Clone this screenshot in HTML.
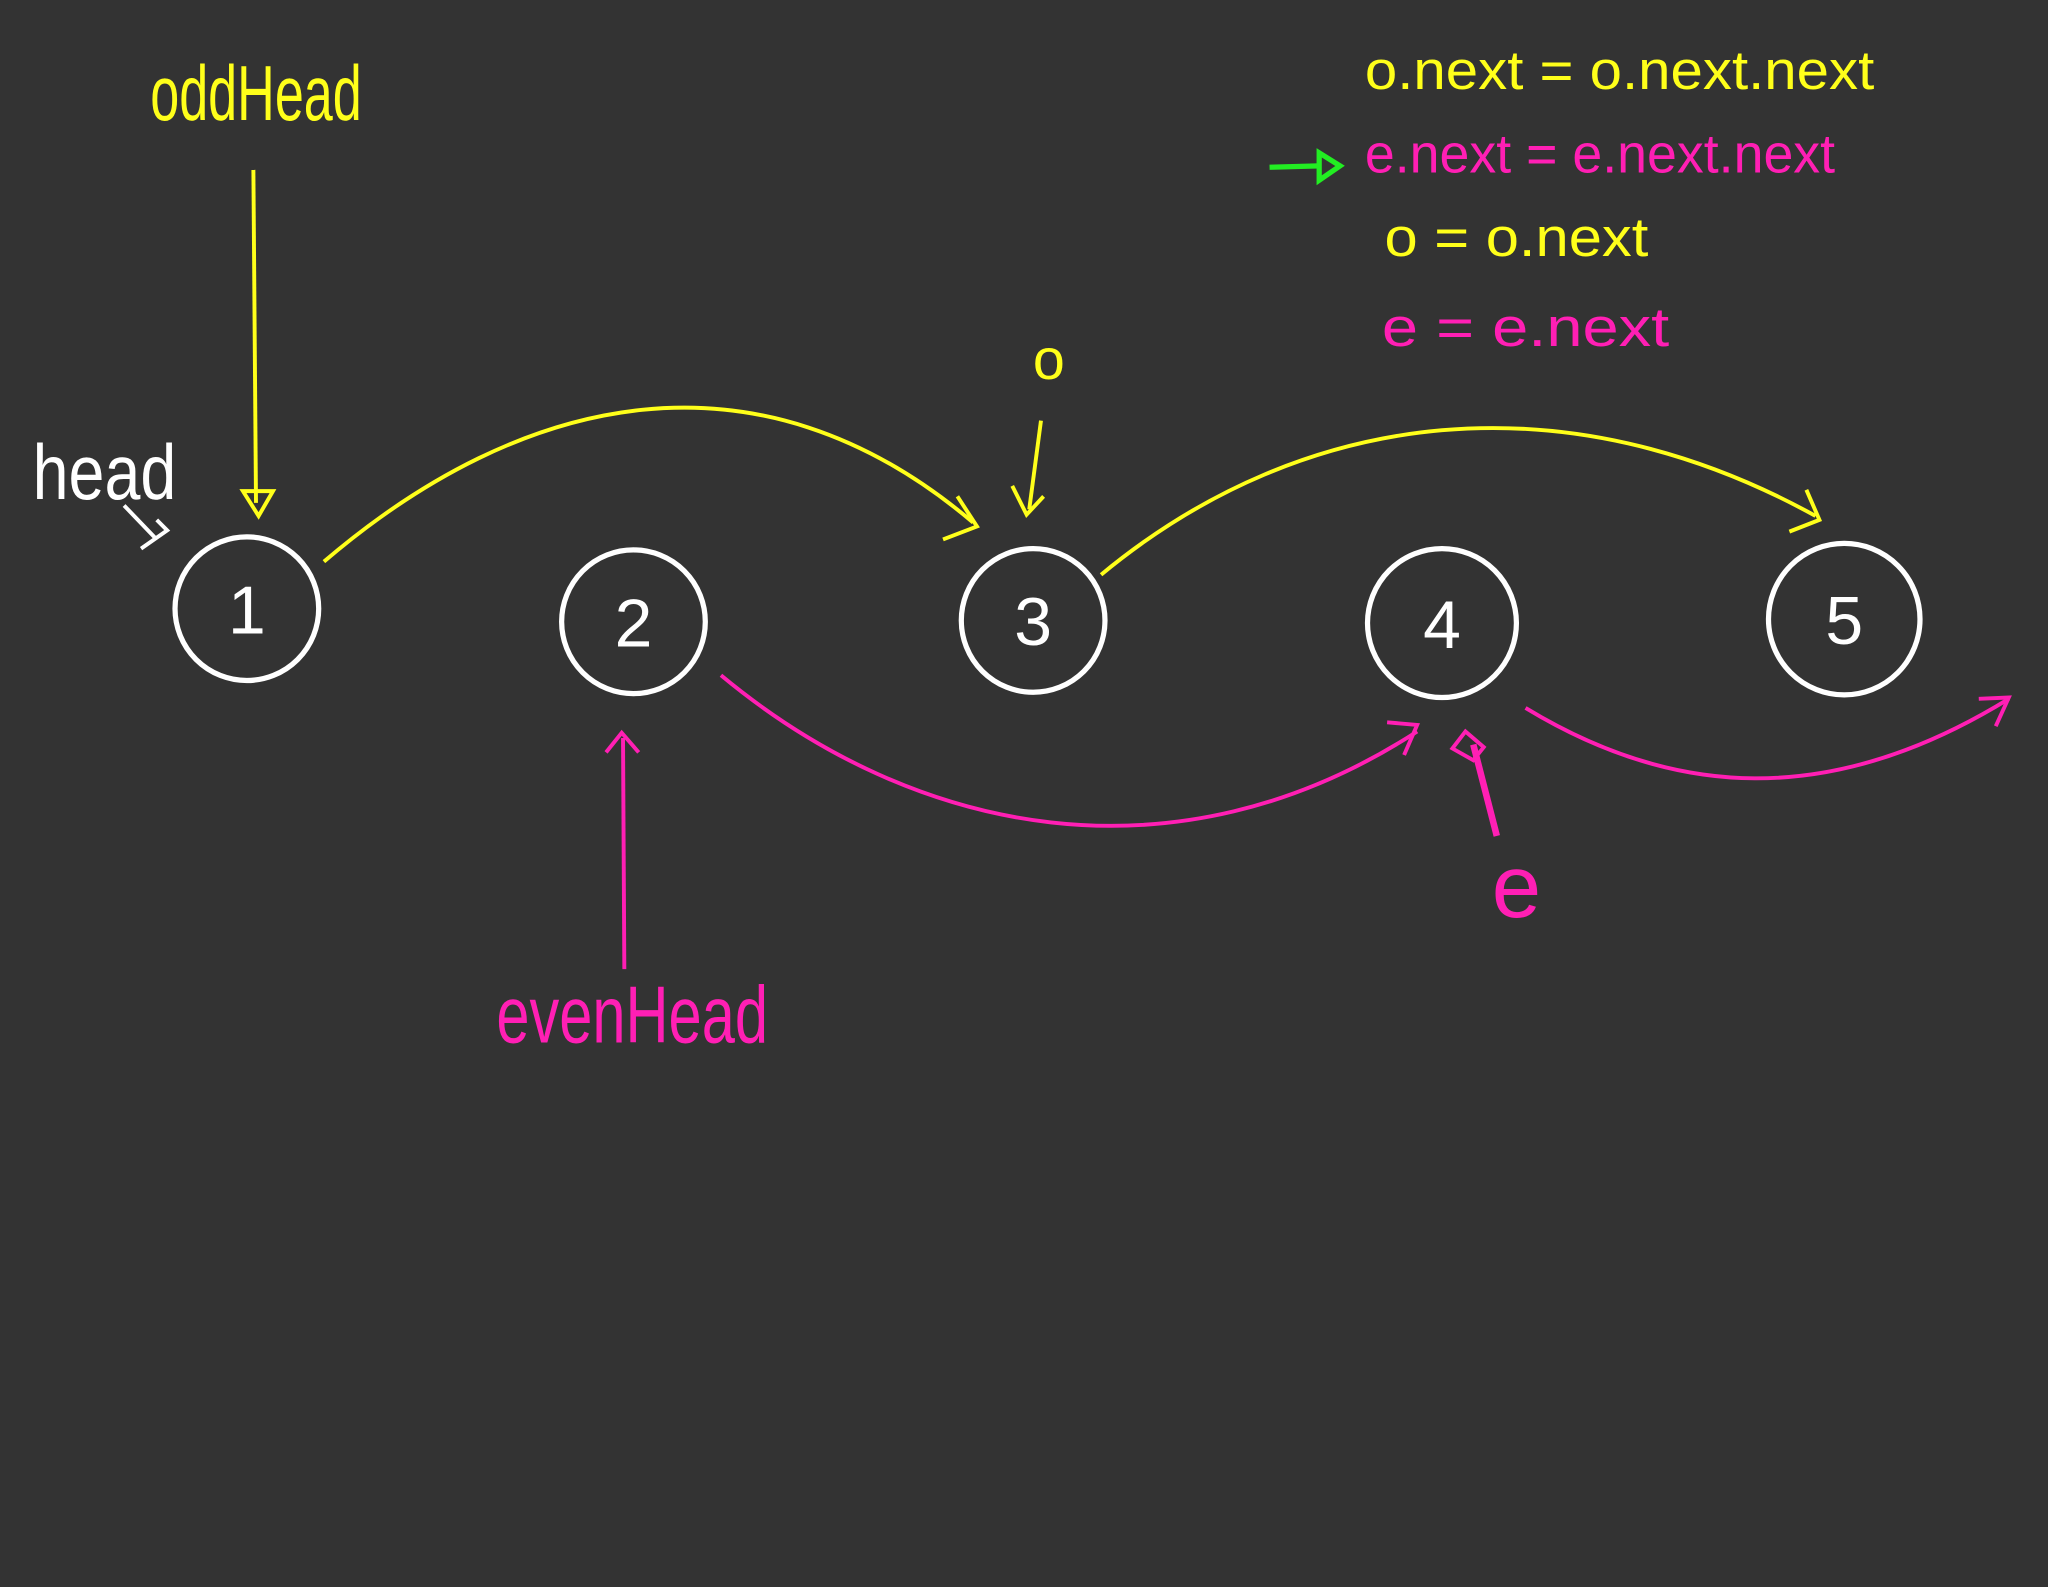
<!DOCTYPE html>
<html><head><meta charset="utf-8"><style>
html,body{margin:0;padding:0;background:#333333;}
svg{display:block;}
text{font-family:"Liberation Sans",sans-serif;}
</style></head><body>
<svg width="2048" height="1587" viewBox="0 0 1568 1215" xmlns="http://www.w3.org/2000/svg">
<rect width="1568" height="1215" fill="#333333"/>
<g fill="none" stroke="#ffffff" stroke-width="4">
<circle cx="189" cy="466" r="55"/>
<circle cx="485" cy="476" r="55"/>
<circle cx="791" cy="475" r="55"/>
<circle cx="1104" cy="477" r="57"/>
<circle cx="1412" cy="474" r="58"/>
</g>
<g fill="#ffffff" font-size="52" text-anchor="middle">
<text x="189" y="485">1</text>
<text x="485" y="495">2</text>
<text x="791" y="494">3</text>
<text x="1104" y="496">4</text>
<text x="1412" y="493">5</text>
</g>
<!-- head -->
<text x="25" y="382" fill="#fff" font-size="60" textLength="110" lengthAdjust="spacingAndGlyphs">head</text>
<path d="M95 387 L120 413 M108 420 L128 406 L120 398" stroke="#fff" stroke-width="3" fill="none"/>
<!-- oddHead -->
<text x="115" y="92" fill="#ffff1a" font-size="60" textLength="162" lengthAdjust="spacingAndGlyphs">oddHead</text>
<g stroke="#ffff1a" stroke-width="3" fill="none">
<path d="M194 130 L196 385"/>
<path d="M186 376 L198 395 L209 376 Z"/>
<path d="M248 430 C400 300 580 260 745 400"/>
<path d="M733 380 L748 403 L722 413"/>
<path d="M843 440 C1000 310 1200 290 1390 395"/>
<path d="M1383 375 L1393 398 L1370 407"/>
<path d="M797 322 L788 390"/>
<path d="M775 372 L786 394 L799 380"/>
</g>
<text x="803" y="290" fill="#ffff1a" font-size="44" text-anchor="middle">o</text>
<!-- evenHead -->
<text x="380" y="798" fill="#ff1fb4" font-size="62" textLength="208" lengthAdjust="spacingAndGlyphs">evenHead</text>
<g stroke="#ff1fb4" stroke-width="3" fill="none">
<path d="M478 742 L477 565"/>
<path d="M464 576 L476 561 L489 576"/>
<path d="M552 517 C700 640 900 680 1085 560"/>
<path d="M1062 553 L1085 555 L1075 578"/>
<path d="M1168 542 C1280 610 1400 620 1538 535"/>
<path d="M1515 535 L1538 534 L1528 556"/>
<path d="M1146 640 L1128 570" stroke-width="5"/>
<path d="M1112 573 L1122 560 L1136 572 L1128 582 Z"/>
</g>
<text x="1161" y="702" fill="#ff1fb4" font-size="68" text-anchor="middle">e</text>
<!-- code -->
<text x="1045" y="68" fill="#ffff1a" font-size="42" textLength="390" lengthAdjust="spacingAndGlyphs">o.next = o.next.next</text>
<text x="1045" y="132" fill="#ff1fb4" font-size="42" textLength="360" lengthAdjust="spacingAndGlyphs">e.next = e.next.next</text>
<text x="1060" y="196" fill="#ffff1a" font-size="42" textLength="202" lengthAdjust="spacingAndGlyphs">o = o.next</text>
<text x="1058" y="265" fill="#ff1fb4" font-size="42" textLength="220" lengthAdjust="spacingAndGlyphs">e = e.next</text>
<g stroke="#22ee22" stroke-width="4" fill="none">
<path d="M972 128 L1010 127"/>
<path d="M1010 117 L1026 127 L1010 138 Z"/>
</g>
</svg>
</body></html>
